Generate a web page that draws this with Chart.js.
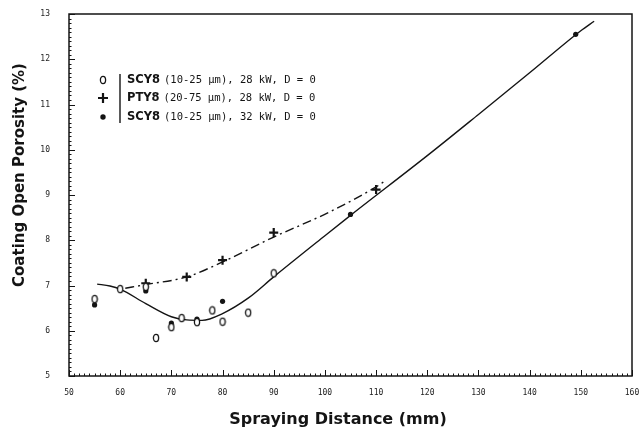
<!DOCTYPE html>
<html>
<head>
<meta charset="utf-8">
<title>Coating open porosity vs spraying distance</title>
<script src="https://cdn.jsdelivr.net/npm/chart.js@4.4.1/dist/chart.umd.min.js"></script>
<style>
    html, body { margin: 0; padding: 0; background: #fff; }
    #chart { display: block; }
</style>
</head>
<body>
<canvas id="chart" width="639" height="429"></canvas>
<script>
// measured points, SCY8 (10-25 um) 28 kW
const scy28X = [55, 60, 65, 67, 70, 72, 75, 78, 80, 85, 90];
const scy28Y = [6.70, 6.92, 6.97, 5.84, 6.08, 6.28, 6.19, 6.45, 6.20, 6.40, 7.27];

// PTY8 (20-75 um) 28 kW
const pty28X = [65, 73, 80, 90, 110];
const pty28Y = [7.05, 7.19, 7.56, 8.17, 9.12];

// SCY8 (10-25 um) 32 kW
const scy32X = [55, 65, 70, 75, 80, 105, 149];
const scy32Y = [6.57, 6.88, 6.17, 6.26, 6.65, 8.57, 12.55];

// hand-drawn fit curves
const scyFitX = [55.5, 58, 60, 65, 70, 73, 76, 80, 85, 90, 100, 105, 120, 130, 140, 150, 152.6];
const scyFitY = [7.03, 6.99, 6.92, 6.60, 6.31, 6.24, 6.23, 6.38, 6.72, 7.19, 8.10, 8.55, 9.87, 10.78, 11.70, 12.63, 12.84];
const ptyFitX = [61, 65, 73, 80, 90, 101, 110, 112];
const ptyFitY = [6.94, 7.02, 7.19, 7.52, 8.07, 8.63, 9.18, 9.33];

const xTicks = [50, 60, 70, 80, 90, 100, 110, 120, 130, 140, 150, 160];
const yTicks = [5, 6, 7, 8, 9, 10, 11, 12, 13];

const legendNames = ['SCY8', 'PTY8', 'SCY8'];
const legendDetails = ['(10-25 μm), 28 kW, D = 0', '(20-75 μm), 28 kW, D = 0', '(10-25 μm), 32 kW, D = 0'];

const ink = '#141414';

function toPoints(xs, ys) {
    return xs.map((x, i) => ({ x: x, y: ys[i] }));
}

function makeOpenMarker() {
    const c = document.createElement('canvas');
    c.width = 8;
    c.height = 10;
    const g = c.getContext('2d');
    g.fillStyle = '#fff';
    g.strokeStyle = ink;
    g.lineWidth = 1.3;
    g.beginPath();
    g.ellipse(4, 5, 2.6, 3.6, 0, 0, Math.PI * 2);
    g.fill();
    g.stroke();
    return c;
}

const openMarker = makeOpenMarker();

const frameAndLegend = {
    id: 'frameAndLegend',
    afterDraw(chart) {
        const { ctx, chartArea: a, scales } = chart;
        const x = scales.x;
        const y = scales.y;
        ctx.save();
        ctx.strokeStyle = ink;

        // frame
        ctx.lineWidth = 1.5;
        ctx.strokeRect(a.left, a.top, a.right - a.left, a.bottom - a.top);

        // inward ticks
        ctx.lineWidth = 1;
        ctx.beginPath();
        for (let v = 50; v <= 160; v++) {
            const px = Math.round(x.getPixelForValue(v)) + 0.5;
            const len = v % 10 === 0 ? 6 : 2.5;
            ctx.moveTo(px, a.bottom);
            ctx.lineTo(px, a.bottom - len);
        }
        for (let i = 50; i <= 130; i++) {
            const py = Math.round(y.getPixelForValue(i / 10)) + 0.5;
            const len = i % 10 === 0 ? 6 : 2.5;
            ctx.moveTo(a.left, py);
            ctx.lineTo(a.left + len, py);
        }
        ctx.stroke();

        // legend
        const markerX = a.left + 34;
        const barX = a.left + 51;
        const textX = a.left + 58;
        const rowY = [a.top + 66, a.top + 84, a.top + 103];

        ctx.lineWidth = 1.4;
        ctx.beginPath();
        ctx.moveTo(barX, rowY[0] - 6);
        ctx.lineTo(barX, rowY[2] + 6);
        ctx.stroke();

        ctx.drawImage(openMarker, markerX - 4, rowY[0] - 5);

        ctx.lineWidth = 2.2;
        ctx.beginPath();
        ctx.moveTo(markerX - 5, rowY[1]);
        ctx.lineTo(markerX + 5, rowY[1]);
        ctx.moveTo(markerX, rowY[1] - 5);
        ctx.lineTo(markerX, rowY[1] + 5);
        ctx.stroke();

        ctx.fillStyle = ink;
        ctx.beginPath();
        ctx.arc(markerX, rowY[2], 2.7, 0, Math.PI * 2);
        ctx.fill();

        ctx.textBaseline = 'middle';
        ctx.textAlign = 'left';
        legendNames.forEach((name, i) => {
            ctx.font = 'bold 11.5px "DejaVu Sans"';
            ctx.fillText(name, textX, rowY[i]);
            const w = ctx.measureText(name).width;
            ctx.font = '10.5px "DejaVu Sans Mono"';
            ctx.fillText(legendDetails[i], textX + w + 4, rowY[i]);
        });

        // axis titles
        ctx.font = 'bold 16px "DejaVu Sans"';
        ctx.textAlign = 'center';
        ctx.textBaseline = 'alphabetic';
        ctx.fillText('Spraying Distance (mm)', 338, 424);

        ctx.translate(24, 175);
        ctx.rotate(-Math.PI / 2);
        ctx.font = 'bold 15px "DejaVu Sans"';
        ctx.fillText('Coating Open Porosity (%)', 0, 0);

        ctx.restore();
    }
};

new Chart(document.getElementById('chart'), {
    type: 'scatter',
    data: {
        datasets: [
            {
                label: 'SCY8 (10-25 μm), 28 kW',
                data: toPoints(scy28X, scy28Y),
                pointStyle: openMarker,
                pointRadius: 4,
                showLine: false
            },
            {
                label: 'PTY8 (20-75 μm), 28 kW',
                data: toPoints(pty28X, pty28Y),
                pointStyle: 'cross',
                pointRadius: 4.5,
                borderColor: ink,
                borderWidth: 2.2,
                showLine: false
            },
            {
                label: 'SCY8 (10-25 μm), 32 kW',
                data: toPoints(scy32X, scy32Y),
                pointStyle: 'circle',
                pointRadius: 2.6,
                backgroundColor: ink,
                borderColor: ink,
                borderWidth: 0,
                showLine: false
            },
            {
                label: 'SCY8 fit',
                data: toPoints(scyFitX, scyFitY),
                showLine: true,
                pointRadius: 0,
                borderColor: ink,
                borderWidth: 1.4,
                cubicInterpolationMode: 'monotone'
            },
            {
                label: 'PTY8 fit',
                data: toPoints(ptyFitX, ptyFitY),
                showLine: true,
                pointRadius: 0,
                borderColor: ink,
                borderWidth: 1.4,
                borderDash: [9, 4, 2, 4],
                cubicInterpolationMode: 'monotone'
            }
        ]
    },
    options: {
        responsive: false,
        animation: false,
        devicePixelRatio: 1,
        layout: {
            padding: { top: 14, right: 7, bottom: 0, left: 0 }
        },
        plugins: {
            legend: { display: false },
            tooltip: { enabled: false }
        },
        scales: {
            x: {
                type: 'linear',
                min: 50,
                max: 160,
                grid: { display: false },
                border: { display: false },
                afterBuildTicks: (scale) => {
                    scale.ticks = xTicks.map(v => ({ value: v }));
                },
                ticks: {
                    maxRotation: 0,
                    autoSkip: false,
                    padding: 4,
                    color: '#222',
                    font: { family: '"DejaVu Sans Mono"', size: 8 }
                },
                afterFit: (scale) => {
                    scale.height = 53;
                    scale.paddingLeft = 0;
                    scale.paddingRight = 0;
                }
            },
            y: {
                type: 'linear',
                min: 5,
                max: 13,
                grid: { display: false },
                border: { display: false },
                afterBuildTicks: (scale) => {
                    scale.ticks = yTicks.map(v => ({ value: v }));
                },
                ticks: {
                    autoSkip: false,
                    padding: 11,
                    color: '#222',
                    font: { family: '"DejaVu Sans Mono"', size: 8 }
                },
                afterFit: (scale) => {
                    scale.width = 69;
                    scale.paddingTop = 0;
                    scale.paddingBottom = 0;
                }
            }
        }
    },
    plugins: [frameAndLegend]
});
</script>
</body>
</html>
